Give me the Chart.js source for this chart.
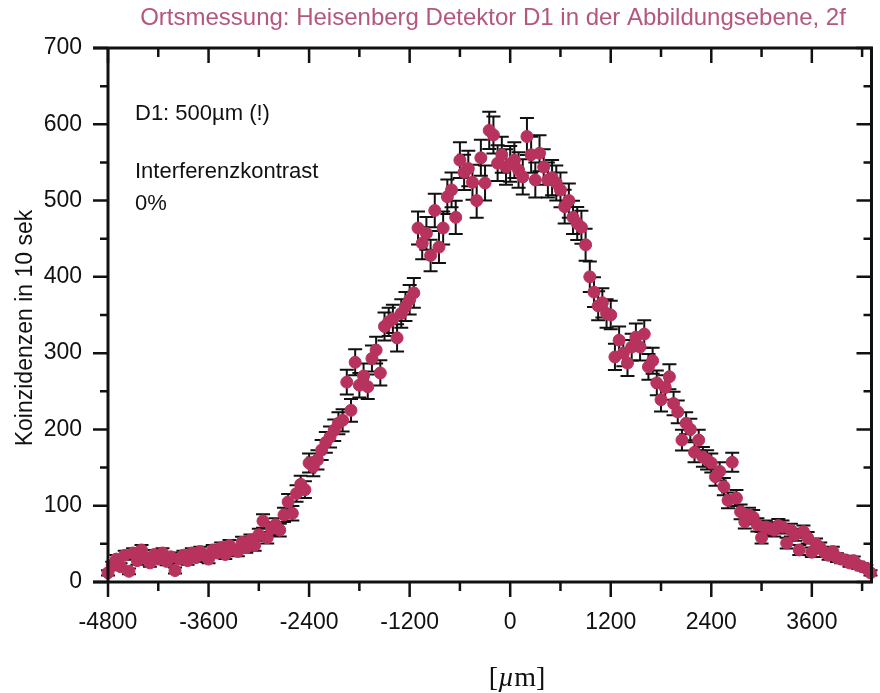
<!DOCTYPE html>
<html lang="de">
<head>
<meta charset="UTF-8">
<title>Ortsmessung D1</title>
<script src="https://cdn.jsdelivr.net/npm/chart.js"></script>
<style>
  html, body { margin: 0; padding: 0; background: #fff; }
  #wrap { position: relative; width: 880px; height: 693px; }
</style>
</head>
<body>
<div id="wrap"><canvas id="ortChart"></canvas></div>
<script>
  // detector position in µm
  const positions = [
    -4800,-4750,-4700,-4650,-4600,-4550,-4500,-4450,-4400,-4350,-4300,-4250,
    -4200,-4150,-4100,-4050,-4000,-3950,-3900,-3850,-3800,-3750,-3700,-3650,
    -3600,-3550,-3500,-3450,-3400,-3350,-3300,-3250,-3200,-3150,-3100,-3050,
    -3000,-2950,-2900,-2850,-2800,-2750,-2700,-2650,-2600,-2550,-2500,-2450,
    -2400,-2350,-2300,-2250,-2200,-2150,-2100,-2050,-2000,-1950,-1900,-1850,
    -1800,-1750,-1700,-1650,-1600,-1550,-1500,-1450,-1400,-1350,-1300,-1250,
    -1200,-1150,-1100,-1050,-1000,-950,-900,-850,-800,-750,-700,-650,
    -600,-550,-500,-450,-400,-350,-300,-250,-200,-150,-100,-50,
    0,50,100,150,200,250,300,350,400,450,500,550,
    600,650,700,750,800,850,900,950,1000,1050,1100,1150,
    1200,1250,1300,1350,1400,1450,1500,1550,1600,1650,1700,1750,
    1800,1850,1900,1950,2000,2050,2100,2150,2200,2250,2300,2350,
    2400,2450,2500,2550,2600,2650,2700,2750,2800,2850,2900,2950,
    3000,3050,3100,3150,3200,3250,3300,3350,3400,3450,3500,3550,
    3600,3650,3700,3750,3800,3850,3900,3950,4000,4050,4100,4150,
    4200,4250,4300
  ];

  // coincidences in 10 s
  const counts = [
    12,22,30,20,35,14,38,28,42,32,25,36,
    30,38,27,33,15,30,35,28,38,32,40,35,
    30,42,38,45,36,48,42,40,52,45,55,48,
    62,80,58,70,75,68,88,105,90,116,128,121,
    156,151,160,173,183,190,199,208,212,262,225,288,
    258,270,256,293,304,274,335,341,345,320,352,361,
    370,379,464,444,457,428,487,439,464,505,514,478,
    553,537,542,524,500,556,523,592,586,549,560,544,
    548,553,540,531,584,560,527,562,544,527,530,523,
    514,492,500,478,470,465,442,400,380,362,366,352,
    350,295,317,300,287,308,321,308,325,282,290,261,
    239,255,269,234,223,186,208,200,170,186,164,160,
    156,138,145,125,107,157,110,92,79,88,85,75,
    58,72,70,68,74,72,51,68,62,42,66,58,
    39,50,45,39,35,40,32,30,29,25,28,22,
    20,18,12
  ];

  const xTicks = [-4800, -3600, -2400, -1200, 0, 1200, 2400, 3600];
  const xMinorTicks = [-4200, -3000, -1800, -600, 600, 1800, 3000, 4200];
  const yTicks = [0, 100, 200, 300, 400, 500, 600, 700];
  const yMinorTicks = [50, 150, 250, 350, 450, 550, 650];

  const SANS = "'Liberation Sans', Arial, sans-serif";
  const SERIF = "'Liberation Serif', 'Times New Roman', serif";
  const INK = '#111';

  // error bars (Poisson, sqrt of counts), frame with ticks, texts
  const framePlugin = {
    id: 'frame',
    beforeDatasetsDraw(chart) {
      const { ctx, scales: { x, y } } = chart;
      ctx.save();
      ctx.strokeStyle = INK;
      ctx.lineWidth = 2;
      positions.forEach((p, i) => {
        const err = Math.sqrt(counts[i]);
        const px = x.getPixelForValue(p);
        const top = y.getPixelForValue(counts[i] + err);
        const bot = y.getPixelForValue(Math.max(0, counts[i] - err));
        ctx.beginPath();
        ctx.moveTo(px, top); ctx.lineTo(px, bot);
        ctx.moveTo(px - 7, top); ctx.lineTo(px + 7, top);
        ctx.moveTo(px - 7, bot); ctx.lineTo(px + 7, bot);
        ctx.stroke();
      });
      ctx.restore();
    },
    afterDraw(chart) {
      const { ctx, chartArea: a, scales: { x, y } } = chart;
      const right = a.right - 1.5;
      ctx.save();
      ctx.strokeStyle = INK;
      ctx.lineWidth = 3;
      ctx.beginPath();
      ctx.moveTo(a.left, a.top); ctx.lineTo(a.left, a.bottom);
      ctx.moveTo(right, a.top); ctx.lineTo(right, a.bottom);
      ctx.moveTo(a.left - 15, a.top); ctx.lineTo(a.right, a.top);
      ctx.moveTo(a.left - 15, a.bottom); ctx.lineTo(a.right, a.bottom);
      ctx.stroke();

      ctx.lineWidth = 2.5;
      ctx.beginPath();
      xTicks.forEach(v => {
        const px = x.getPixelForValue(v);
        ctx.moveTo(px, a.bottom); ctx.lineTo(px, a.bottom + 15);
        ctx.moveTo(px, a.top); ctx.lineTo(px, a.top + 15);
      });
      xMinorTicks.forEach(v => {
        const px = x.getPixelForValue(v);
        ctx.moveTo(px, a.bottom); ctx.lineTo(px, a.bottom + 9);
        ctx.moveTo(px, a.top); ctx.lineTo(px, a.top + 9);
      });
      yTicks.forEach(v => {
        const py = y.getPixelForValue(v);
        ctx.moveTo(a.left - 15, py); ctx.lineTo(a.left, py);
        ctx.moveTo(right, py); ctx.lineTo(right - 15, py);
      });
      yMinorTicks.forEach(v => {
        const py = y.getPixelForValue(v);
        ctx.moveTo(a.left - 8, py); ctx.lineTo(a.left, py);
        ctx.moveTo(right, py); ctx.lineTo(right - 8, py);
      });
      ctx.stroke();

      // title
      ctx.fillStyle = '#b4567e';
      ctx.font = '24px ' + SANS;
      ctx.textAlign = 'center';
      ctx.textBaseline = 'alphabetic';
      ctx.fillText('Ortsmessung: Heisenberg Detektor D1 in der Abbildungsebene, 2f', 493, 25);

      // annotations
      ctx.fillStyle = INK;
      ctx.font = '22px ' + SANS;
      ctx.textAlign = 'left';
      ctx.fillText('D1: 500µm (!)', 135, 120);
      ctx.fillText('Interferenzkontrast', 135, 178);
      ctx.fillText('0%', 135, 210);

      // y axis title
      ctx.save();
      ctx.translate(32, 328);
      ctx.rotate(-Math.PI / 2);
      ctx.textAlign = 'center';
      ctx.font = '23px ' + SANS;
      ctx.fillText('Koinzidenzen in 10 sek', 0, 0);
      ctx.restore();

      // x axis title [µm] with italic mu
      const parts = [['[', ''], ['µ', 'italic '], ['m]', '']];
      let total = 0;
      parts.forEach(p => { ctx.font = p[1] + '28px ' + SERIF; total += ctx.measureText(p[0]).width; });
      let cx = 517 - total / 2;
      ctx.textAlign = 'left';
      parts.forEach(p => {
        ctx.font = p[1] + '28px ' + SERIF;
        ctx.fillText(p[0], cx, 686);
        cx += ctx.measureText(p[0]).width;
      });
      ctx.restore();
    }
  };

  new Chart(document.getElementById('ortChart'), {
    type: 'scatter',
    data: {
      datasets: [{
        label: 'Koinzidenzen',
        data: positions.map((p, i) => ({ x: p, y: counts[i] })),
        backgroundColor: '#b8325e',
        borderColor: '#b8325e',
        pointRadius: 6,
        pointHoverRadius: 6,
        clip: false
      }]
    },
    options: {
      responsive: true,
      maintainAspectRatio: false,
      animation: false,
      layout: { padding: { top: 48, right: 0, left: 0, bottom: 0 } },
      plugins: { legend: { display: false }, title: { display: false }, tooltip: { enabled: false } },
      scales: {
        x: {
          type: 'linear',
          min: -4800,
          max: 4330,
          afterBuildTicks: s => { s.ticks = xTicks.map(v => ({ value: v })); },
          afterFit: s => { s.height = 111; },
          grid: { display: false, drawTicks: false },
          border: { display: false },
          ticks: { color: INK, font: { family: SANS, size: 23 }, padding: 27, maxRotation: 0, autoSkip: false,
                   callback: v => String(v) }
        },
        y: {
          min: 0,
          max: 700,
          afterBuildTicks: s => { s.ticks = yTicks.map(v => ({ value: v })); },
          afterFit: s => { s.width = 108; },
          grid: { display: false, drawTicks: false },
          border: { display: false },
          ticks: { color: INK, font: { family: SANS, size: 23 }, padding: 26, callback: v => String(v) }
        }
      }
    },
    plugins: [framePlugin]
  });
</script>
</body>
</html>
